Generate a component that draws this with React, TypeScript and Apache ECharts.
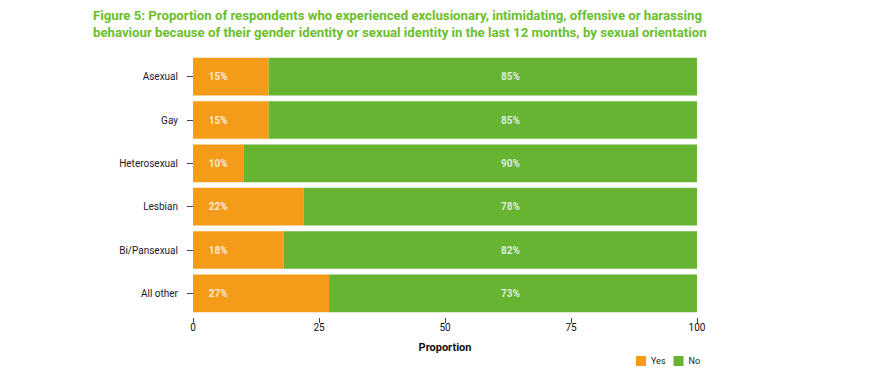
import React, { useEffect, useRef } from "react";
import * as echarts from "echarts";

const categories = ["Asexual", "Gay", "Heterosexual", "Lesbian", "Bi/Pansexual", "All other"];
const yesValues = [15, 15, 10, 22, 18, 27];
const noValues = [85, 85, 90, 78, 82, 73];
const xTicks = [0, 25, 50, 75, 100];
const yesLabelPos = 5;
const noLabelPos = 63;

const FONT = "'Roboto', sans-serif";

export default function App() {
  const ref = useRef<HTMLDivElement>(null);
  useEffect(() => {
    if (!ref.current) return;
    const chart = echarts.init(ref.current, null, { renderer: "svg" });
    chart.setOption({
      animation: false,
      backgroundColor: "#ffffff",
      textStyle: { fontFamily: FONT },
      title: {
        text:
          "Figure 5: Proportion of respondents who experienced exclusionary, intimidating, offensive or harassing\nbehaviour because of their gender identity or sexual identity in the last 12 months, by sexual orientation",
        left: 88,
        top: 2,
        textStyle: { fontFamily: FONT, fontSize: 13.2, fontWeight: "bold", color: "#6BBE2C", lineHeight: 17 },
      },
      legend: {
        data: ["Yes", "No"],
        left: 636,
        top: 356,
        padding: 0,
        itemWidth: 10,
        itemHeight: 10,
        itemGap: 8,
        icon: "rect",
        textStyle: { fontFamily: FONT, fontSize: 9, color: "#222" },
      },
      grid: { left: 193, right: 191, top: 55, bottom: 56 },
      xAxis: {
        type: "value",
        min: 0,
        max: 100,
        interval: 25,
        offset: 3,
        axisLine: { show: false },
        axisTick: { show: true, length: 5, lineStyle: { color: "#444" } },
        splitLine: { show: false },
        axisLabel: {
          fontFamily: FONT,
          fontSize: 10,
          color: "#111",
          margin: 4,
          formatter: (v: number) => (xTicks.includes(v) ? String(v) : ""),
        },
        name: "Proportion",
        nameLocation: "middle",
        nameGap: 24,
        nameTextStyle: { fontFamily: FONT, fontSize: 11, fontWeight: "bold", color: "#111" },
      },
      yAxis: {
        type: "category",
        data: categories,
        inverse: true,
        offset: 4,
        axisLine: { show: false },
        axisTick: { show: true, length: 6, alignWithLabel: true, lineStyle: { color: "#444" } },
        axisLabel: { fontFamily: FONT, fontSize: 10, color: "#1a1a2a", margin: 11 },
      },
      series: [
        {
          name: "Yes",
          type: "bar",
          stack: "total",
          barWidth: "87%",
          data: yesValues,
          itemStyle: { color: "#F49C19" },
        },
        {
          name: "No",
          type: "bar",
          stack: "total",
          barWidth: "87%",
          data: noValues,
          itemStyle: { color: "#67B332" },
        },
        {
          name: "yesLabels",
          type: "scatter",
          symbolSize: 0,
          silent: true,
          data: yesValues.map((v, i) => [yesLabelPos, categories[i], v]),
          label: {
            show: true,
            position: "inside",
            formatter: (p: any) => p.value[2] + "%",
            color: "#ffffff",
            fontFamily: FONT,
            fontSize: 10,
            fontWeight: "bold",
          },
        },
        {
          name: "noLabels",
          type: "scatter",
          symbolSize: 0,
          silent: true,
          data: noValues.map((v, i) => [noLabelPos, categories[i], v]),
          label: {
            show: true,
            position: "inside",
            formatter: (p: any) => p.value[2] + "%",
            color: "#ffffff",
            fontFamily: FONT,
            fontSize: 10,
            fontWeight: "bold",
          },
        },
      ],
    });
    return () => chart.dispose();
  }, []);
  return (
    <div
      ref={ref}
      style={{ position: "fixed", left: 0, top: 0, width: 888, height: 371 }}
    />
  );
}
